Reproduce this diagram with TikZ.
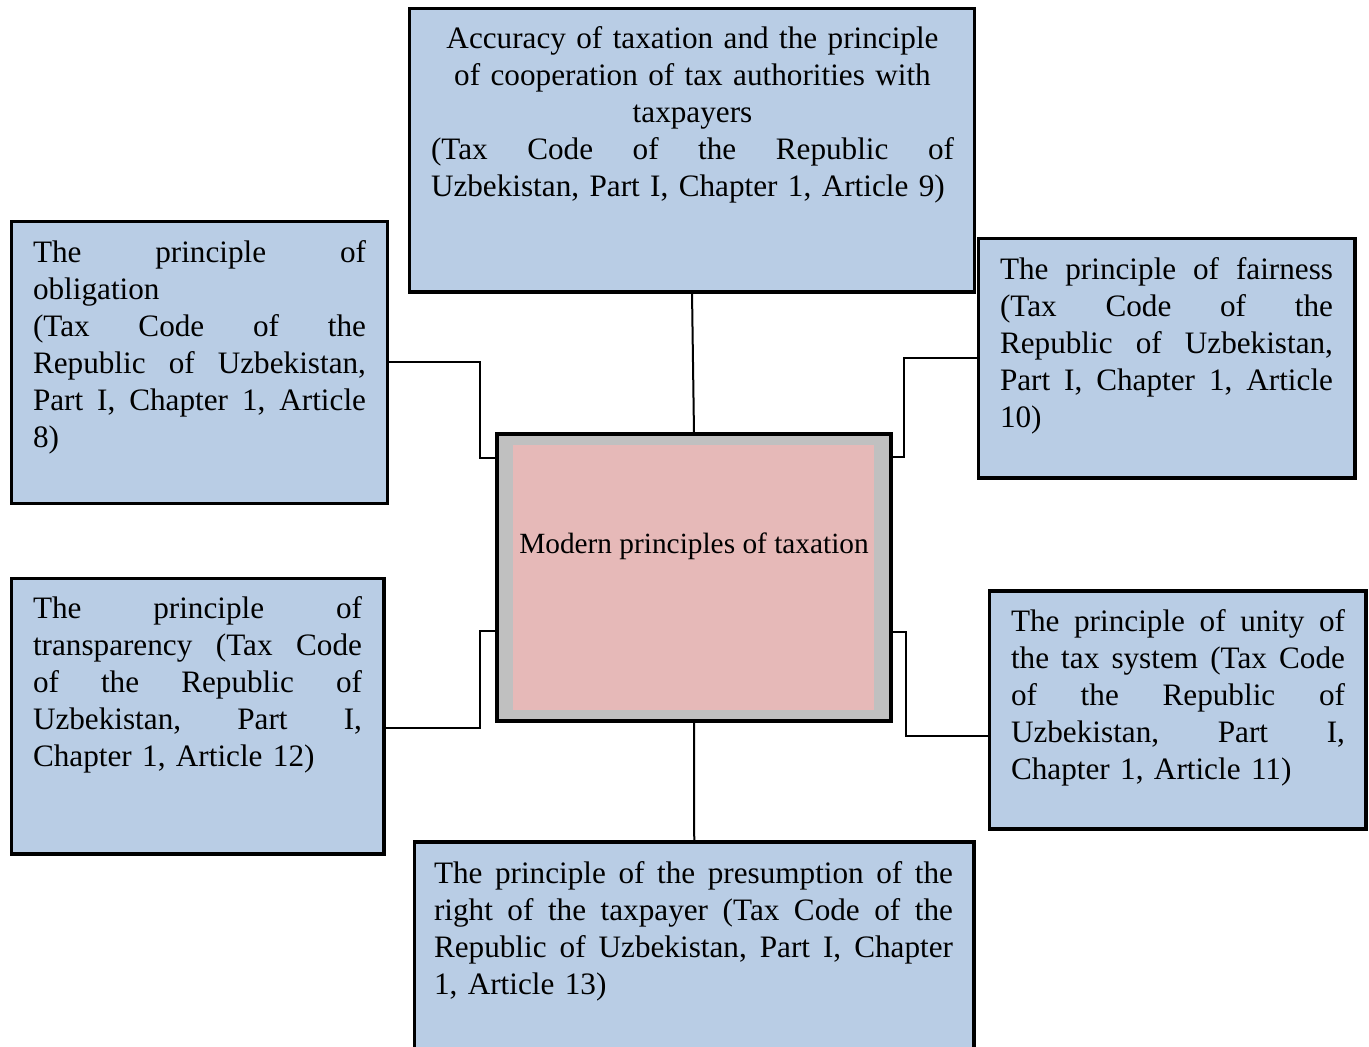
\documentclass[tikz,border=0pt]{standalone}
\usepackage{fontspec}
\setmainfont{Liberation Serif}
\setlength\parindent{0pt}
\definecolor{boxblue}{HTML}{B9CDE5}
\definecolor{boxpink}{HTML}{E6B9B8}
\definecolor{boxgray}{HTML}{C0C0C0}
\newcommand\J[1]{\leavevmode\hbox to\hsize{\frenchspacing\spaceskip=0.25em plus 1fil\relax #1}}
\newcommand\C[1]{\leavevmode\hbox to\hsize{\hfil #1\hfil}}
\newcommand\Lft[1]{\leavevmode\hbox to\hsize{#1\hfil}}
\newcommand\fs{\rule{0pt}{24pt}}
\tikzset{
  pbox/.style={draw=black, line width=2.9pt, fill=boxblue, inner sep=0pt, outer sep=0pt, anchor=north west},
  ptext/.style={inner sep=0pt, outer sep=0pt, anchor=north west, align=left, font=\fontsize{23.4pt}{27.75pt}\selectfont},
  conn/.style={line width=1.5pt, black}
}
\begin{document}
\begin{tikzpicture}[x=0.75pt,y=-0.75pt]
\useasboundingbox[fill=white] (0,0) rectangle (1369,1046);
% boxes
\node[pbox, minimum width=423.75pt, minimum height=212.625pt] (top) at (409.5,8.5) {};
\node[pbox, minimum width=282pt, minimum height=211.5pt] (l1) at (11.5,221.5) {};
\node[pbox, minimum width=282.375pt, minimum height=179.625pt] (r1) at (978.5,238.5) {};
\node[pbox, minimum width=279.375pt, minimum height=206.625pt] (l2) at (11.5,578.5) {};
\node[pbox, minimum width=282.375pt, minimum height=178.5pt] (r2) at (989.5,591) {};
\node[pbox, minimum width=419.625pt, minimum height=163.5pt] (bot) at (414.5,842) {};
\node[draw=black, line width=3.2pt, fill=boxgray, inner sep=0pt, outer sep=0pt, anchor=north west,
      minimum width=295.5pt, minimum height=215.5pt] (c) at (497,434) {};
\node[fill=boxpink, inner sep=0pt, outer sep=0pt, anchor=north west,
      minimum width=270.15pt, minimum height=198.75pt] (cin) at (513.3,445) {};
% texts
\node[ptext, text width=392.25pt] (toptext) at (431,16.5) {\fs\C{Accuracy of taxation and the principle}\\
\C{of cooperation of tax authorities with}\\
\C{taxpayers}\\
\J{(Tax Code of the Republic of}\\
\Lft{Uzbekistan, Part I, Chapter 1, Article 9)}};
\node[ptext, text width=249.75pt] (l1text) at (33,230) {\fs\J{The principle of}\\
\Lft{obligation}\\
\J{(Tax Code of the}\\
\J{Republic of Uzbekistan,}\\
\J{Part I, Chapter 1, Article}\\
\Lft{8)}};
\node[ptext, text width=246.75pt] (l2text) at (33,586) {\fs\J{The principle of}\\
\J{transparency (Tax Code}\\
\J{of the Republic of}\\
\J{Uzbekistan, Part I,}\\
\Lft{Chapter 1, Article 12)}};
\node[ptext, text width=249.75pt] (r1text) at (1000,247) {\fs\J{The principle of fairness}\\
\J{(Tax Code of the}\\
\J{Republic of Uzbekistan,}\\
\J{Part I, Chapter 1, Article}\\
\Lft{10)}};
\node[ptext, text width=250.5pt] (r2text) at (1011,599) {\fs\J{The principle of unity of}\\
\J{the tax system (Tax Code}\\
\J{of the Republic of}\\
\J{Uzbekistan, Part I,}\\
\Lft{Chapter 1, Article 11)}};
\node[ptext, text width=389.25pt] (bottext) at (434,851) {\fs\J{The principle of the presumption of the}\\
\J{right of the taxpayer (Tax Code of the}\\
\J{Republic of Uzbekistan, Part I, Chapter}\\
\Lft{1, Article 13)}};
\node[inner sep=0pt, anchor=base, font=\fontsize{22pt}{26.6pt}\selectfont] (ctext) at (694,553) {Modern principles of taxation};
% connectors
\draw[conn] (top.south) -- (c.north);
\draw[conn] (c.south) -- (bot.north);
\draw[conn] (l1.east |- 0,362) -| (480,458) -- (c.west |- 0,458);
\draw[conn] (r1.west |- 0,358) -| (904,457) -- (c.east |- 0,457);
\draw[conn] (c.west |- 0,631) -| (480,728) -- (l2.east |- 0,728);
\draw[conn] (c.east |- 0,632) -| (906,736) -- (r2.west |- 0,736);
\end{tikzpicture}
\end{document}
